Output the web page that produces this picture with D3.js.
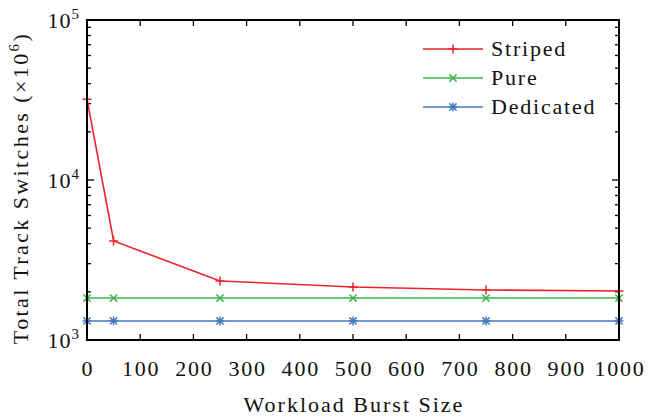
<!DOCTYPE html>
<html>
<head>
<meta charset="utf-8">
<script src="https://cdn.jsdelivr.net/npm/d3@7"></script>
<style>
  body { margin: 0; background: #fff; }
</style>
</head>
<body>
<div id="chart"></div>
<script>
var burst = [0, 50, 250, 500, 750, 1000];
var striped = [32000, 4160, 2340, 2145, 2055, 2025];
var pure = [1830, 1830, 1830, 1830, 1830, 1830];
var dedicated = [1315, 1315, 1315, 1315, 1315, 1315];
var seriesNames = ["Striped", "Pure", "Dedicated"];
var xTicks = [0, 100, 200, 300, 400, 500, 600, 700, 800, 900, 1000];
var yMajor = [3, 4, 5];

var FONT = "'Liberation Serif', serif";

var margin = {top: 20, right: 40, bottom: 78, left: 87},
    width = 659 - margin.left - margin.right,
    height = 418 - margin.top - margin.bottom;

var colors = ["#ee2229", "#3db34a", "#4479c0"];
var markers = ["plus", "cross", "star"];

var svg = d3.select("#chart")
    .append("svg")
    .attr("width", width + margin.left + margin.right)
    .attr("height", height + margin.top + margin.bottom)
    .attr("font-family", FONT)
    .append("g")
    .attr("transform", "translate(" + margin.left + "," + margin.top + ")");

var x = d3.scaleLinear().domain([0, 1000]).range([0, width]);
var y = d3.scaleLog().domain([1000, 100000]).range([height, 0]);

// minor log ticks
var minor = [];
[1000, 10000].forEach(function (b) {
    for (var k = 2; k <= 9; k++) minor.push(b * k);
});

var ticks = svg.append("g").attr("stroke", "#000").attr("stroke-width", 1.3);
xTicks.forEach(function (t) {
    ticks.append("line").attr("x1", x(t)).attr("x2", x(t)).attr("y1", height).attr("y2", height - 6);
    ticks.append("line").attr("x1", x(t)).attr("x2", x(t)).attr("y1", 0).attr("y2", 6);
});
minor.forEach(function (t) {
    ticks.append("line").attr("x1", 0).attr("x2", 4).attr("y1", y(t)).attr("y2", y(t));
    ticks.append("line").attr("x1", width).attr("x2", width - 4).attr("y1", y(t)).attr("y2", y(t));
});
yMajor.forEach(function (p) {
    var v = Math.pow(10, p);
    ticks.append("line").attr("x1", 0).attr("x2", 7).attr("y1", y(v)).attr("y2", y(v));
    ticks.append("line").attr("x1", width).attr("x2", width - 7).attr("y1", y(v)).attr("y2", y(v));
});

function label(g, spacing) {
    return g.append("text")
        .attr("font-family", FONT)
        .attr("fill", "#111")
        .attr("font-size", 22)
        .attr("letter-spacing", spacing);
}

// x tick labels
xTicks.forEach(function (d) {
    label(svg, 1.8)
        .attr("x", x(d) + 1)
        .attr("y", height + 36)
        .attr("text-anchor", "middle")
        .text(d);
});

// y tick labels 10^p
yMajor.forEach(function (d) {
    var t = label(svg, 1)
        .attr("x", -7)
        .attr("y", y(Math.pow(10, d)) + 8)
        .attr("text-anchor", "end");
    t.append("tspan").text("10");
    t.append("tspan").attr("dy", -9).attr("font-size", 15).text(d);
});

// axis labels
label(svg, 2)
    .attr("x", width / 2 + 1)
    .attr("y", height + 72)
    .attr("text-anchor", "middle")
    .text("Workload Burst Size");

var ylab = label(svg, 2.4)
    .attr("transform", "translate(" + (-59) + "," + (height / 2 + 8) + ") rotate(-90)")
    .attr("text-anchor", "middle");
ylab.append("tspan").text("Total Track Switches (×10");
ylab.append("tspan").attr("dy", -9).attr("font-size", 15).text("6");
ylab.append("tspan").attr("dy", 9).text(")");

function drawMarker(g, type, cx, cy, color) {
    var s = 4.5;
    var m = g.append("g").attr("transform", "translate(" + cx + "," + cy + ")")
        .attr("stroke", color).attr("stroke-width", 1.5).attr("fill", "none");
    if (type === "plus" || type === "star") {
        m.append("line").attr("x1", -s).attr("x2", s).attr("y1", 0).attr("y2", 0);
        m.append("line").attr("x1", 0).attr("x2", 0).attr("y1", -s).attr("y2", s);
    }
    if (type === "cross" || type === "star") {
        var c = s * 0.8;
        m.append("line").attr("x1", -c).attr("x2", c).attr("y1", -c).attr("y2", c);
        m.append("line").attr("x1", -c).attr("x2", c).attr("y1", c).attr("y2", -c);
    }
}

var line = d3.line()
    .x(function (d) { return x(d[0]); })
    .y(function (d) { return y(d[1]); });

[striped, pure, dedicated].forEach(function (vals, i) {
    var pts = burst.map(function (b, j) { return [b, vals[j]]; });
    svg.append("path")
        .datum(pts)
        .attr("d", line)
        .attr("fill", "none")
        .attr("stroke", colors[i])
        .attr("stroke-width", 1.6);
    pts.forEach(function (p) { drawMarker(svg, markers[i], x(p[0]), y(p[1]), colors[i]); });
});

// legend
var legend = svg.append("g").attr("transform", "translate(" + (423 - margin.left) + "," + (49 - margin.top) + ")");
seriesNames.forEach(function (name, i) {
    var ly = i * 29;
    legend.append("line")
        .attr("x1", 0).attr("x2", 60).attr("y1", ly).attr("y2", ly)
        .attr("stroke", colors[i]).attr("stroke-width", 1.6);
    drawMarker(legend, markers[i], 30, ly, colors[i]);
    label(legend, 1.8)
        .attr("x", 68)
        .attr("y", ly + 7)
        .text(name);
});

// frame
svg.append("rect")
    .attr("width", width)
    .attr("height", height)
    .attr("fill", "none")
    .attr("stroke", "#000")
    .attr("stroke-width", 2);
</script>
</body>
</html>
